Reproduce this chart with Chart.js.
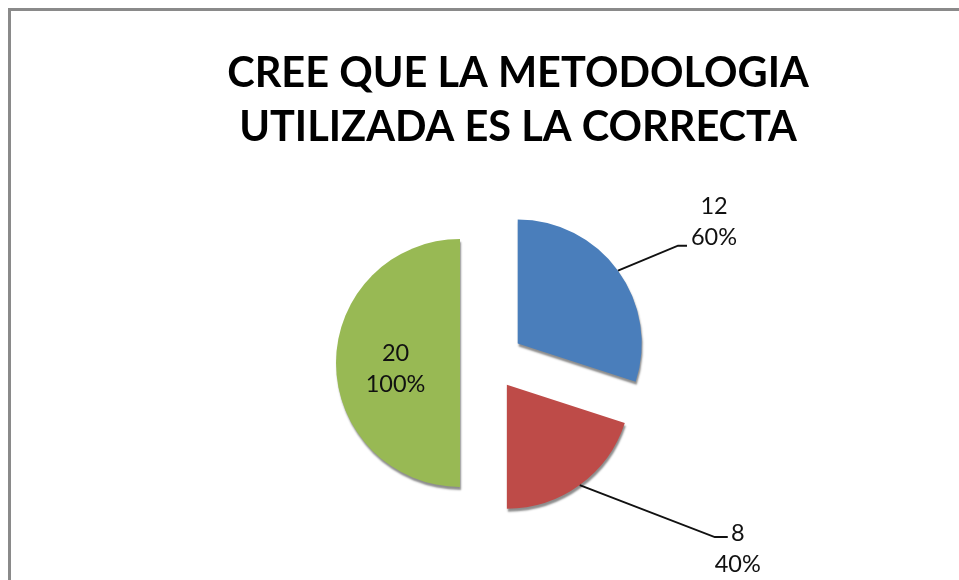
<!DOCTYPE html>
<html lang="es">
<head>
<meta charset="utf-8">
<title>Cree que la metodologia utilizada es la correcta</title>
<script src="https://cdn.jsdelivr.net/npm/chart.js@4.4.1/dist/chart.umd.min.js"></script>
<style>
    html, body { margin: 0; padding: 0; background: #fff; overflow: hidden; }
    #frame {
        position: absolute; left: 8px; top: 8px;
        width: 1200px; height: 900px;
        border-left: 3px solid #8a8a8a;
        border-top: 3px solid #8a8a8a;
    }
    #wrap { position: absolute; left: 0; top: 0; width: 959px; height: 580px; }
</style>
</head>
<body>
<div id="frame"></div>
<div id="wrap"><canvas id="pieChart"></canvas></div>
<script>
// Chart data
const titleLines = ['CREE QUE LA METODOLOGIA', 'UTILIZADA ES LA CORRECTA'];
const categories = ['SI', 'NO', 'TOTAL'];
const counts = [12, 8, 20];
const percentLabels = ['60%', '40%', '100%'];

// Pulls every slice away from the centre along its mid angle (like Excel's "explode")
const explodePlugin = {
    id: 'explode',
    beforeDatasetsDraw(chart, args, opts) {
        const arcs = chart.getDatasetMeta(0).data;
        arcs.forEach((arc, i) => {
            const d = opts.distance[i] || 0;
            const mid = (arc.startAngle + arc.endAngle) / 2;
            arc.x += Math.cos(mid) * d;
            arc.y += Math.sin(mid) * d;
        });
        // soft drop shadow for the 3D look
        const ctx = chart.ctx;
        ctx.save();
        ctx.shadowColor = opts.shadowColor;
        ctx.shadowBlur = 2;
        ctx.shadowOffsetX = 1;
        ctx.shadowOffsetY = 3;
    },
    afterDatasetsDraw(chart, args, opts) {
        chart.ctx.restore();
        const arcs = chart.getDatasetMeta(0).data;
        arcs.forEach((arc, i) => {
            const d = opts.distance[i] || 0;
            const mid = (arc.startAngle + arc.endAngle) / 2;
            arc.x -= Math.cos(mid) * d;
            arc.y -= Math.sin(mid) * d;
        });
    }
};

// Empty box on the right so the pie sits left of the title centre
const spacerPlugin = {
    id: 'rightSpacer',
    beforeInit(chart) {
        const box = {
            position: 'right',
            weight: 0,
            fullSize: false,
            options: {},
            width: 0,
            height: 0,
            isHorizontal() { return false; },
            update(maxWidth, maxHeight) {
                this.width = chart.options.plugins.rightSpacer.width;
                this.height = maxHeight;
            },
            draw() {}
        };
        Chart.layouts.addBox(chart, box);
    }
};

// Value + percent labels, with leader lines for the outside ones
const sliceLabelPlugin = {
    id: 'sliceLabels',
    afterDraw(chart, args, opts) {
        const ctx = chart.ctx;
        const arcs = chart.getDatasetMeta(0).data;
        const explode = chart.options.plugins.explode.distance;
        ctx.save();
        ctx.font = opts.font;
        ctx.fillStyle = opts.color;
        ctx.strokeStyle = opts.color;
        ctx.lineWidth = opts.lineWidth;
        ctx.textAlign = 'center';
        ctx.textBaseline = 'middle';

        arcs.forEach((arc, i) => {
            const mid = (arc.startAngle + arc.endAngle) / 2;
            const cos = Math.cos(mid), sin = Math.sin(mid);
            const cx = arc.x + cos * (explode[i] || 0);
            const cy = arc.y + sin * (explode[i] || 0);
            const r = arc.outerRadius;
            const lines = [String(counts[i]), percentLabels[i]];
            const place = opts.placement[i];
            let tx, ty;

            if (place.type === 'inside') {
                tx = cx + cos * r * place.dist;
                ty = cy + sin * r * place.dist + place.dy - (lines.length - 1) * opts.lineHeight / 2;
            } else {
                const ex = cx + cos * r, ey = cy + sin * r;
                const bx = ex + place.elbow[0], by = ey + place.elbow[1];
                const endX = bx + place.tail;
                ctx.beginPath();
                ctx.moveTo(ex, ey);
                ctx.lineTo(bx, by);
                ctx.lineTo(endX, by);
                ctx.stroke();
                tx = endX + place.text[0];
                ty = by + place.text[1];
            }
            lines.forEach((t, k) => ctx.fillText(t, tx, ty + k * opts.lineHeight));
        });
        ctx.restore();
    }
};

function buildChart() {
    const ctx = document.getElementById('pieChart').getContext('2d');
    new Chart(ctx, {
        type: 'pie',
        data: {
            labels: categories,
            datasets: [{
                data: counts,
                backgroundColor: ['#4A7EBB', '#BE4B48', '#98B954'],
                borderWidth: 0
            }]
        },
        options: {
            responsive: true,
            maintainAspectRatio: false,
            animation: false,
            radius: 124,
            layout: { padding: { left: 77, right: 0, top: 0, bottom: 9 } },
            plugins: {
                legend: { display: false },
                tooltip: { enabled: false },
                title: {
                    display: true,
                    text: titleLines,
                    color: '#000',
                    font: { family: 'Lato', size: 41.5, weight: 'bold', lineHeight: 1.3 },
                    padding: { top: 47, bottom: 0 }
                },
                rightSpacer: { width: 54 },
                explode: {
                    distance: [33, 27, 31],
                    shadowColor: 'rgba(0, 0, 0, 0.45)'
                },
                sliceLabels: {
                    font: '23.5px Lato',
                    color: '#111',
                    lineWidth: 2,
                    lineHeight: 31,
                    placement: [
                        { type: 'callout', elbow: [60, -25], tail: 9, text: [27, -39] },
                        { type: 'callout', elbow: [135, 52], tail: 13, text: [10, -4] },
                        { type: 'inside', dist: 0.52, dy: 6 }
                    ]
                }
            }
        },
        plugins: [spacerPlugin, explodePlugin, sliceLabelPlugin]
    });
}

document.addEventListener('DOMContentLoaded', () => {
    Promise.all([
        document.fonts.load('bold 40px Lato'),
        document.fonts.load('23px Lato')
    ]).catch(() => {}).then(buildChart);
});
</script>
</body>
</html>
